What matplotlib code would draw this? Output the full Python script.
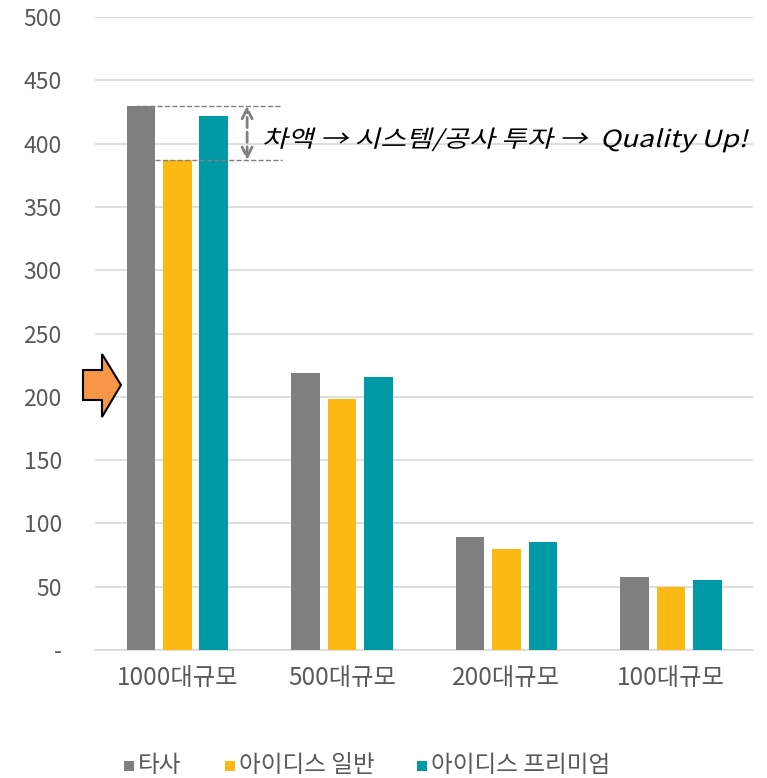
import matplotlib.pyplot as plt
from matplotlib.patches import Polygon, PathPatch, Rectangle
from matplotlib.textpath import TextPath
from matplotlib.font_manager import FontProperties
from matplotlib.transforms import Affine2D
import numpy as np

plt.rcParams['font.family'] = ['Noto Sans CJK KR', 'DejaVu Sans']

# Data
categories = ['1000대규모', '500대규모', '200대규모', '100대규모']
series_names = ['타사', '아이디스 일반', '아이디스 프리미엄']
other = [430, 219, 89, 58]
idis_basic = [387, 198, 80, 50]
idis_premium = [422, 216, 85, 55]
colors = ['#7F7F7F', '#FDB913', '#0099A6']
yticks = [0, 50, 100, 150, 200, 250, 300, 350, 400, 450, 500]
ytick_labels = ['-', '50', '100', '150', '200', '250', '300', '350', '400', '450', '500']
note = '차액 → 시스템/공사 투자 →  Quality Up!'

W, H = 767, 778
fig = plt.figure(figsize=(W / 100, H / 100), dpi=100)
ax = fig.add_axes([0.124, 0.1645, 0.858, 0.8135])

x = np.arange(len(categories))
width = 0.174
pitch = 0.2215
for i, (vals, name, c) in enumerate(zip([other, idis_basic, idis_premium], series_names, colors)):
    ax.bar(x + (i - 1) * pitch, vals, width, color=c, label=name, zorder=3)

ax.set_xlim(-0.5, 3.5)
ax.set_ylim(0, 500)
ax.set_yticks(yticks)
ax.set_yticklabels(ytick_labels)
ax.set_xticks(x)
ax.set_xticklabels(categories)
ax.tick_params(axis='y', length=0, labelsize=16.5, colors='#595959', pad=24)
ax.tick_params(axis='x', length=0, labelsize=17.5, colors='#595959', pad=11)
ax.grid(axis='y', color='#D9D9D9', linewidth=1.2, zorder=0)
for s in ['top', 'right', 'left']:
    ax.spines[s].set_visible(False)
ax.spines['bottom'].set_color('#D9D9D9')
ax.spines['bottom'].set_linewidth(1.2)

# difference annotation
top_v = other[0]
low_v = idis_basic[0]
ax.plot([-0.26, 0.636], [top_v, top_v], ls='--', color='#808080', lw=1, zorder=4)
ax.plot([-0.133, 0.636], [low_v, low_v], ls='--', color='#808080', lw=1, zorder=4)
ax.annotate('', xy=(0.424, top_v), xytext=(0.424, low_v),
            arrowprops=dict(arrowstyle='<->', color='#808080', lw=2, ls='--',
                            mutation_scale=18, shrinkA=0, shrinkB=0), zorder=5)

# italic (skewed) note text, drawn as a path so the Korean glyphs slant too
size = 17
tp = TextPath((0, 0), note, size=size, prop=FontProperties(family=['Noto Sans CJK KR', 'DejaVu Sans']))
px = 100 / 72
sx = 482 / (tp.get_extents().width * px)
tr = Affine2D().scale(px * sx, px).skew_deg(14, 0).translate(262, H - 138 - 0.38 * size * px)
fig.patches.append(PathPatch(tr.transform_path(tp), facecolor='black', edgecolor='none',
                             transform=None, figure=fig))

# orange block arrow on the left
pts = [(83, 370), (102, 370), (102, 354), (121, 385), (102, 417), (102, 400), (83, 400)]
pts = [(p / W, 1 - q / H) for p, q in pts]
fig.patches.append(Polygon(pts, closed=True, facecolor='#F79646', edgecolor='black',
                           linewidth=1.5, transform=fig.transFigure, figure=fig))

# legend, placed item by item
leg_x = [124, 225, 417]
for lx, name, c in zip(leg_x, series_names, colors):
    fig.patches.append(Rectangle((lx / W, 1 - 771 / H), 10 / W, 10 / H, facecolor=c,
                                 edgecolor='none', transform=fig.transFigure, figure=fig))
    fig.text((lx + 14) / W, 1 - 766 / H, name, fontsize=17, color='#595959',
             ha='left', va='center')

plt.savefig('out.png', dpi=100)
